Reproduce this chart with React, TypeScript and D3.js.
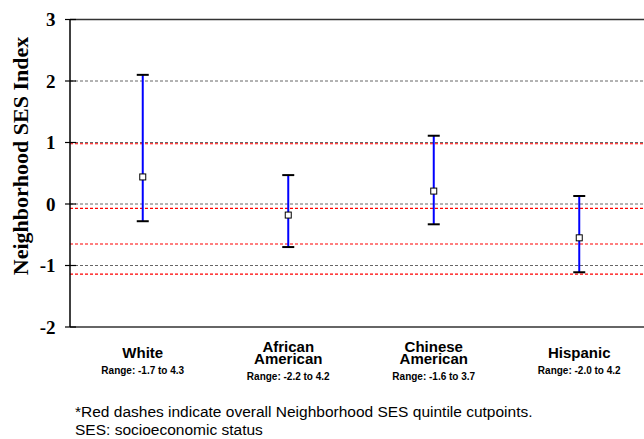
import React from "react";
import * as d3 from "d3";

const categories = ["White", "African American", "Chinese American", "Hispanic"];
const categoryLines = [["White"], ["African", "American"], ["Chinese", "American"], ["Hispanic"]];
const rangeLabels = ["Range: -1.7 to 4.3", "Range: -2.2 to 4.2", "Range: -1.6 to 3.7", "Range: -2.0 to 4.2"];
const means = [0.44, -0.18, 0.21, -0.55];
const lowers = [-0.28, -0.70, -0.33, -1.11];
const uppers = [2.10, 0.47, 1.11, 0.13];
const yTicks = [3, 2, 1, 0, -1, -2];
const gridValues = [2, 1, 0, -1];
const cutpoints = [0.98, -0.07, -0.65, -1.14];

export default function App() {
  const W = 644, H = 439;
  const left = 70, right = 652, top = 19.5, bottom = 327;
  const y = d3.scaleLinear().domain([-2, 3]).range([bottom, top]);
  const x = d3.scaleBand().domain(categories).range([left, right]);
  const cx = (c: string) => (x(c) as number) + x.bandwidth() / 2;
  const serif = "'Liberation Serif', 'Times New Roman', serif";
  const sans = "'Liberation Sans', Arial, sans-serif";
  return (
    <svg width={W} height={H} style={{ position: "absolute", left: 0, top: 0, background: "#fff" }}>
      {gridValues.map((v) => (
        <line key={"g" + v} x1={left} x2={W} y1={y(v)} y2={y(v)} stroke="#666" strokeWidth={1} strokeDasharray="3,2" />
      ))}
      {cutpoints.map((v) => (
        <line key={"c" + v} x1={left} x2={W} y1={y(v)} y2={y(v)} stroke="#f00" strokeWidth={1.2} strokeDasharray="3,2" />
      ))}
      <line x1={left} x2={W} y1={y(3)} y2={y(3)} stroke="#333" strokeWidth={1.5} />
      <line x1={left} x2={W} y1={y(-2)} y2={y(-2)} stroke="#333" strokeWidth={1.5} />
      <line x1={left} x2={left} y1={y(3)} y2={y(-2)} stroke="#000" strokeWidth={1.5} />
      {yTicks.map((v) => (
        <g key={"t" + v}>
          <line x1={left - 5} x2={left + 6} y1={y(v)} y2={y(v)} stroke="#000" strokeWidth={1.2} />
          <text x={left - 14.5} y={y(v) + 6.5} textAnchor="end" fontFamily={serif} fontWeight="bold" fontSize={19}>
            {v}
          </text>
        </g>
      ))}
      <text
        transform={`translate(28,156) rotate(-90)`}
        textAnchor="middle"
        fontFamily={serif}
        fontWeight="bold"
        fontSize={22}
      >
        Neighborhood SES Index
      </text>
      {categories.map((c, i) => {
        const px = cx(c);
        return (
          <g key={c}>
            <line x1={px} x2={px} y1={y(uppers[i])} y2={y(lowers[i])} stroke="#0000ff" strokeWidth={2} />
            <line x1={px - 6} x2={px + 6} y1={y(uppers[i])} y2={y(uppers[i])} stroke="#000" strokeWidth={2} />
            <line x1={px - 6} x2={px + 6} y1={y(lowers[i])} y2={y(lowers[i])} stroke="#000" strokeWidth={2} />
            <rect x={px - 3} y={y(means[i]) - 3} width={6} height={6} fill="#fff" stroke="#000" strokeWidth={1} />
          </g>
        );
      })}
      {categories.map((c, i) => {
        const px = cx(c);
        const lines = categoryLines[i];
        const base = lines.length === 1 ? 357.5 : 351.5;
        return (
          <g key={"l" + c} fontFamily={sans} fontWeight="bold" textAnchor="middle">
            {lines.map((ln, j) => (
              <text key={ln} x={px} y={base + j * 12.5} fontSize={15}>
                {ln}
              </text>
            ))}
            <text x={px} y={base + (lines.length - 1) * 12.5 + 16} fontSize={10}>
              {rangeLabels[i]}
            </text>
          </g>
        );
      })}
      <text x={75} y={417} fontFamily={sans} fontSize={15.5}>
        *Red dashes indicate overall Neighborhood SES quintile cutpoints.
      </text>
      <text x={75} y={435} fontFamily={sans} fontSize={15.5}>
        SES: socioeconomic status
      </text>
    </svg>
  );
}
